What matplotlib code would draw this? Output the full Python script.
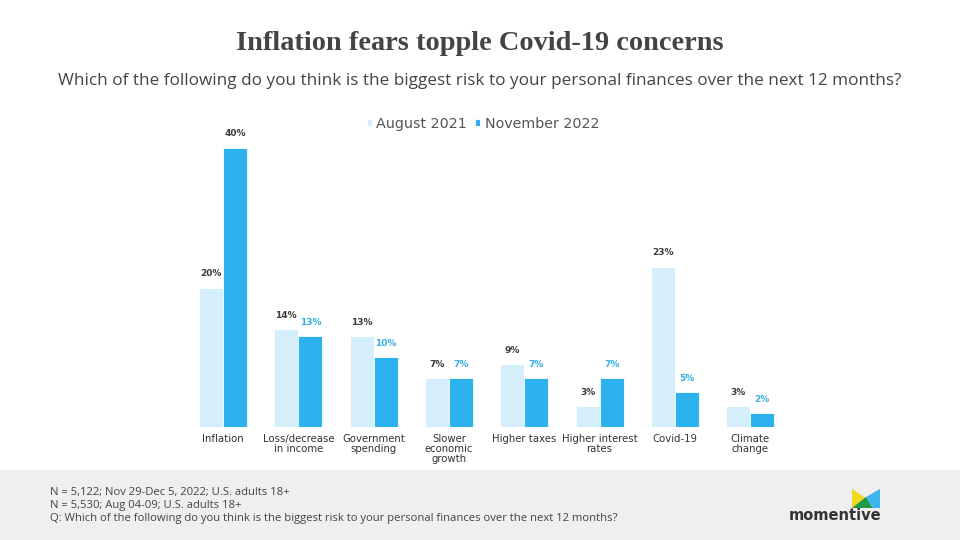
import matplotlib
matplotlib.use("Agg")
import matplotlib.pyplot as plt
from matplotlib.patches import Polygon, Rectangle
import numpy as np

categories = ["Inflation", "Loss/decrease\nin income", "Government\nspending",
              "Slower\neconomic\ngrowth", "Higher taxes", "Higher interest\nrates",
              "Covid-19", "Climate\nchange"]
aug_2021 = [20, 14, 13, 7, 9, 3, 23, 3]
nov_2022 = [40, 13, 10, 7, 7, 7, 5, 2]
series_names = ["August 2021", "November 2022"]

c_aug = "#d5eefb"
c_nov = "#2cb3ef"
c_nov_txt = "#33aee6"
dark = "#3a3a3a"

W, H = 960, 540
fig = plt.figure(figsize=(9.6, 5.4), dpi=100)
fig.patch.set_facecolor("white")

def fx(px):
    return px / W

def fy(py):
    return 1 - py / H

# footer band
fig.patches.append(Rectangle((0, 0), 1, fy(470), transform=fig.transFigure,
                             facecolor="#efefef", edgecolor="none", zorder=0))

# title and subtitle
fig.text(0.5, fy(43), "Inflation fears topple Covid-19 concerns", ha="center", va="center",
         fontsize=20.4, fontweight="bold", family="Liberation Serif", color="#444444")
fig.text(0.5, fy(81), "Which of the following do you think is the biggest risk to your personal finances over the next 12 months?",
         ha="center", va="center", fontsize=12.3, family="Open Sans", color="#444444")

# axes
left_px, right_px = 185.4, 787.9
base_px = 427
px_per = 6.975
ymax = 45
ax = fig.add_axes([fx(left_px), fy(base_px), fx(right_px - left_px), ymax * px_per / H])
ax.set_xlim(-0.5, len(categories) - 0.5)
ax.set_ylim(0, ymax)
for s in ax.spines.values():
    s.set_visible(False)
ax.set_yticks([])
ax.tick_params(axis="x", length=0, pad=5)
x = np.arange(len(categories))
w = 0.32
b1 = ax.bar(x - w / 2, aug_2021, w, color=c_aug, edgecolor="white", linewidth=0.6, label=series_names[0])
b2 = ax.bar(x + w / 2, nov_2022, w, color=c_nov, edgecolor="white", linewidth=0.6, label=series_names[1])
ax.set_xticks(x)
ax.set_xticklabels(categories, fontsize=7.3, family="DejaVu Sans", color="#333333", linespacing=1.0)

for i, v in enumerate(aug_2021):
    ax.annotate(f"{v}%", (x[i] - w / 2, v), xytext=(0, 14), textcoords="offset pixels",
                ha="center", va="center", fontsize=6.5, fontweight="bold", color=dark)
for i, v in enumerate(nov_2022):
    col = dark if i == 0 else c_nov_txt
    ax.annotate(f"{v}%", (x[i] + w / 2, v), xytext=(0, 14), textcoords="offset pixels",
                ha="center", va="center", fontsize=6.5, fontweight="bold", color=col)

leg = fig.legend(handles=[b1, b2], labels=series_names, loc="center", bbox_to_anchor=(fx(483), fy(124)),
                 ncol=2, frameon=False, handlelength=0.35, handleheight=0.35,
                 handletextpad=0.3, columnspacing=0.6, prop={"family": "DejaVu Sans", "size": 10.3})
for t in leg.get_texts():
    t.set_color("#555555")

# footer text
foot = ["N = 5,122; Nov 29-Dec 5, 2022; U.S. adults 18+",
        "N = 5,530; Aug 04-09; U.S. adults 18+",
        "Q: Which of the following do you think is the biggest risk to your personal finances over the next 12 months?"]
for k, line in enumerate(foot):
    fig.text(fx(50), fy(492 + k * 13.2), line, ha="left", va="center", fontsize=8.1,
             family="Open Sans", color="#444444")

# logo
def poly(pts, color):
    fig.patches.append(Polygon([(fx(a), fy(b)) for a, b in pts], closed=True, transform=fig.transFigure,
                               facecolor=color, edgecolor="none", zorder=2))
poly([(852, 489), (870, 501), (863, 508), (852, 508)], "#f2d81d")
poly([(852, 508), (866, 497), (873, 508)], "#1f9b48")
poly([(866, 497), (880, 489), (880, 508), (873, 508)], "#3bb7ee")
fig.text(fx(835), fy(516), "momentive", ha="center", va="center", fontsize=10.5, fontweight="bold",
         family="DejaVu Sans", color="#333333")

fig.savefig("out.png", dpi=100)
